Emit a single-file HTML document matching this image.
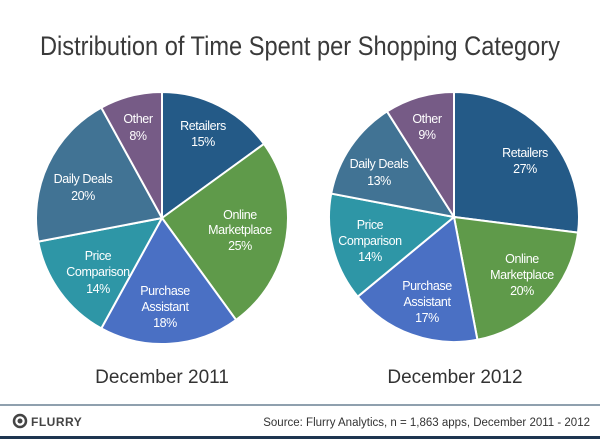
<!DOCTYPE html><html><head><style>body{margin:0;background:#fff}svg{display:block}</style></head><body>
<svg width="600" height="441" xmlns="http://www.w3.org/2000/svg" font-family="Liberation Sans, sans-serif">
<rect width="600" height="441" fill="#fff"/>
<text x="300" y="55" text-anchor="middle" font-size="27" fill="#3a3a3a" textLength="520" lengthAdjust="spacingAndGlyphs">Distribution of Time Spent per Shopping Category</text>
<g id="p1" stroke="#fff" stroke-width="2"></g>
<g id="p2" stroke="#fff" stroke-width="2"></g>
<g fill="#fff" font-size="12.5" text-anchor="middle" letter-spacing="-0.4">
<text x="203" y="130">Retailers</text><text x="203" y="146">15%</text>
<text x="240" y="219">Online</text><text x="240" y="234">Marketplace</text><text x="240" y="250">25%</text>
<text x="165" y="295">Purchase</text><text x="165" y="311">Assistant</text><text x="165" y="327">18%</text>
<text x="98" y="260">Price</text><text x="98" y="276">Comparison</text><text x="98" y="293">14%</text>
<text x="83" y="183">Daily Deals</text><text x="83" y="200">20%</text>
<text x="138" y="123">Other</text><text x="138" y="140">8%</text>
<text x="525" y="157">Retailers</text><text x="525" y="173">27%</text>
<text x="522" y="263">Online</text><text x="522" y="279">Marketplace</text><text x="522" y="295">20%</text>
<text x="427" y="290">Purchase</text><text x="427" y="306">Assistant</text><text x="427" y="322">17%</text>
<text x="370" y="229">Price</text><text x="370" y="245">Comparison</text><text x="370" y="261">14%</text>
<text x="379" y="168">Daily Deals</text><text x="379" y="185">13%</text>
<text x="427" y="123">Other</text><text x="427" y="139">9%</text>
</g>
<text x="162" y="383" text-anchor="middle" font-size="19" fill="#333">December 2011</text>
<text x="455" y="383" text-anchor="middle" font-size="19" fill="#333">December 2012</text>
<rect x="0" y="404" width="600" height="2" fill="#8fa0ae"/>
<rect x="0" y="436" width="600" height="3" fill="#1e3550"/>
<circle cx="20" cy="421" r="6" fill="none" stroke="#444" stroke-width="2.5"/><circle cx="20" cy="421" r="2.5" fill="#444"/>
<text x="31" y="426" font-size="12" font-weight="bold" fill="#444" letter-spacing="0.5">FLURRY</text>
<text x="590" y="426" text-anchor="end" font-size="11.5" fill="#333">Source: Flurry Analytics, n = 1,863 apps, December 2011 - 2012</text>
</svg>
<script>
function pie(id,cx,cy,r,vals,cols){var g=document.getElementById(id),a=0,s='';for(var i=0;i<vals.length;i++){var b=a+vals[i]/100*2*Math.PI;var x1=cx+r*Math.sin(a),y1=cy-r*Math.cos(a),x2=cx+r*Math.sin(b),y2=cy-r*Math.cos(b);s+='<path d="M'+cx+','+cy+'L'+x1+','+y1+'A'+r+','+r+' 0 '+(b-a>Math.PI?1:0)+' 1 '+x2+','+y2+'Z" fill="'+cols[i]+'"/>';a=b;}g.innerHTML=s;}
var c=['#245a87','#5f9a4a','#4a70c4','#2e96a6','#417394','#765b86'];
pie('p1',162,218,126,[15,25,18,14,20,8],c);
pie('p2',454,217,125,[27,20,17,14,13,9],c);
</script>
</body></html>
